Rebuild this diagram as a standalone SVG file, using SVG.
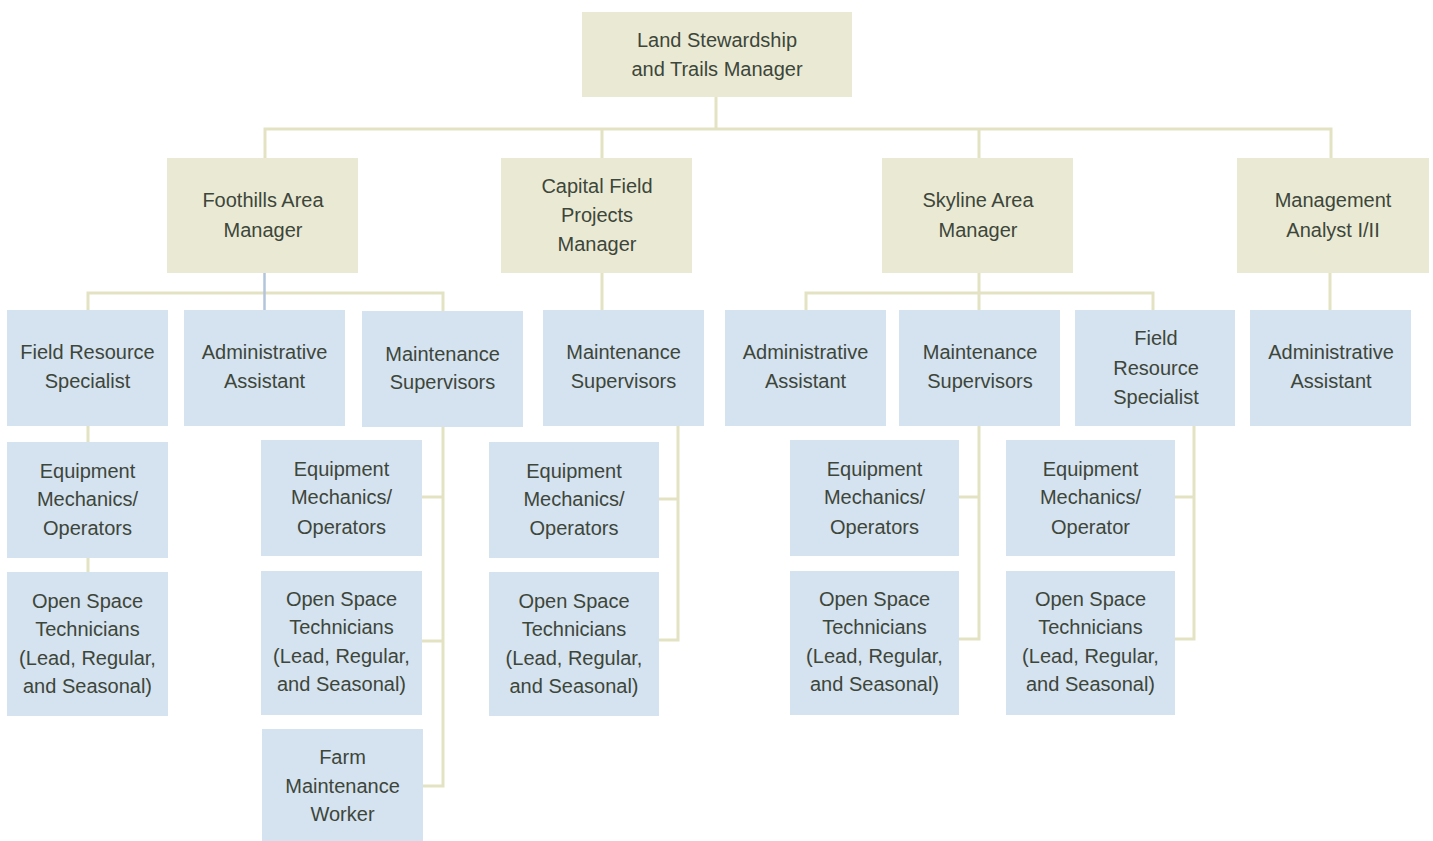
<svg xmlns="http://www.w3.org/2000/svg" width="1433" height="841" viewBox="0 0 1433 841">
<style>
.tan{fill:#EAEAD4}
.blu{fill:#D5E2EF}
text{font-family:"Liberation Sans",Arial,sans-serif;font-size:20px;fill:#3D463A;text-anchor:middle}
.ln{fill:none;stroke:#E3E3C3;stroke-width:3;stroke-linecap:square}
.bl{fill:none;stroke:#B3C5DB;stroke-width:2.5}
</style>
<rect width="1433" height="841" fill="#fff"/>
<g id="connectors">
<path class="ln" d="M716 97V129M265 129H1331M265 129V158M602 129V158M979 129V158M1331 129V158"/>
<path class="ln" d="M88 293H443M88 293V310M443 293V311"/>
<path class="bl" d="M264.5 273V310"/>
<path class="ln" d="M602 273V310"/>
<path class="ln" d="M979 273V310M806 293H1153M806 293V310M1153 293V310"/>
<path class="ln" d="M1330 273V310"/>
<path class="ln" d="M88 426V442M88 558V572"/>
<path class="ln" d="M443 427V786M422 497H443M422 641H443M423 786H443"/>
<path class="ln" d="M678 426V640M659 499H678M659 640H678"/>
<path class="ln" d="M979 426V639M959 497H979M959 639H979"/>
<path class="ln" d="M1194 426V639M1175 497H1194M1175 639H1194"/>
</g>
<g id="n-top"><rect class="tan" x="582" y="12" width="270" height="85"/><text x="717" y="47">Land Stewardship</text><text x="717" y="76">and Trails Manager</text></g>
<g id="n-foothills"><rect class="tan" x="167" y="158" width="191" height="115"/><text x="263" y="207">Foothills Area</text><text x="263" y="237">Manager</text></g>
<g id="n-capital"><rect class="tan" x="501" y="158" width="191" height="115"/><text x="597" y="193">Capital Field</text><text x="597" y="222">Projects</text><text x="597" y="251">Manager</text></g>
<g id="n-skyline"><rect class="tan" x="882" y="158" width="191" height="115"/><text x="978" y="207">Skyline Area</text><text x="978" y="237">Manager</text></g>
<g id="n-mgmt"><rect class="tan" x="1237" y="158" width="192" height="115"/><text x="1333" y="207">Management</text><text x="1333" y="237">Analyst I/II</text></g>
<g id="n-f-frs"><rect class="blu" x="7" y="310" width="161" height="116"/><text x="87.5" y="359">Field Resource</text><text x="87.5" y="388">Specialist</text></g>
<g id="n-f-admin"><rect class="blu" x="184" y="310" width="161" height="116"/><text x="264.5" y="359">Administrative</text><text x="264.5" y="388">Assistant</text></g>
<g id="n-f-ms"><rect class="blu" x="362" y="311" width="161" height="116"/><text x="442.5" y="361">Maintenance</text><text x="442.5" y="389">Supervisors</text></g>
<g id="n-c-ms"><rect class="blu" x="543" y="310" width="161" height="116"/><text x="623.5" y="359">Maintenance</text><text x="623.5" y="388">Supervisors</text></g>
<g id="n-s-admin"><rect class="blu" x="725" y="310" width="161" height="116"/><text x="805.5" y="359">Administrative</text><text x="805.5" y="388">Assistant</text></g>
<g id="n-s-ms"><rect class="blu" x="899" y="310" width="161" height="116"/><text x="980" y="359">Maintenance</text><text x="980" y="388">Supervisors</text></g>
<g id="n-s-frs"><rect class="blu" x="1075" y="310" width="160" height="116"/><text x="1156" y="345">Field</text><text x="1156" y="375">Resource</text><text x="1156" y="404">Specialist</text></g>
<g id="n-m-admin"><rect class="blu" x="1250" y="310" width="161" height="116"/><text x="1331" y="359">Administrative</text><text x="1331" y="388">Assistant</text></g>
<g id="n-f-frs-eq"><rect class="blu" x="7" y="442" width="161" height="116"/><text x="87.5" y="478">Equipment</text><text x="87.5" y="506">Mechanics/</text><text x="87.5" y="535">Operators</text></g>
<g id="n-f-frs-os"><rect class="blu" x="7" y="572" width="161" height="144"/><text x="87.5" y="608">Open Space</text><text x="87.5" y="636">Technicians</text><text x="87.5" y="665">(Lead, Regular,</text><text x="87.5" y="693">and Seasonal)</text></g>
<g id="n-f-ms-eq"><rect class="blu" x="261" y="440" width="161" height="116"/><text x="341.5" y="476">Equipment</text><text x="341.5" y="504">Mechanics/</text><text x="341.5" y="534">Operators</text></g>
<g id="n-f-ms-os"><rect class="blu" x="261" y="571" width="161" height="144"/><text x="341.5" y="606">Open Space</text><text x="341.5" y="634">Technicians</text><text x="341.5" y="663">(Lead, Regular,</text><text x="341.5" y="691">and Seasonal)</text></g>
<g id="n-f-ms-farm"><rect class="blu" x="262" y="729" width="161" height="112"/><text x="342.5" y="764">Farm</text><text x="342.5" y="793">Maintenance</text><text x="342.5" y="821">Worker</text></g>
<g id="n-c-ms-eq"><rect class="blu" x="489" y="442" width="170" height="116"/><text x="574" y="478">Equipment</text><text x="574" y="506">Mechanics/</text><text x="574" y="535">Operators</text></g>
<g id="n-c-ms-os"><rect class="blu" x="489" y="572" width="170" height="144"/><text x="574" y="608">Open Space</text><text x="574" y="636">Technicians</text><text x="574" y="665">(Lead, Regular,</text><text x="574" y="693">and Seasonal)</text></g>
<g id="n-s-ms-eq"><rect class="blu" x="790" y="440" width="169" height="116"/><text x="874.5" y="476">Equipment</text><text x="874.5" y="504">Mechanics/</text><text x="874.5" y="534">Operators</text></g>
<g id="n-s-ms-os"><rect class="blu" x="790" y="571" width="169" height="144"/><text x="874.5" y="606">Open Space</text><text x="874.5" y="634">Technicians</text><text x="874.5" y="663">(Lead, Regular,</text><text x="874.5" y="691">and Seasonal)</text></g>
<g id="n-s-frs-eq"><rect class="blu" x="1006" y="440" width="169" height="116"/><text x="1090.5" y="476">Equipment</text><text x="1090.5" y="504">Mechanics/</text><text x="1090.5" y="534">Operator</text></g>
<g id="n-s-frs-os"><rect class="blu" x="1006" y="571" width="169" height="144"/><text x="1090.5" y="606">Open Space</text><text x="1090.5" y="634">Technicians</text><text x="1090.5" y="663">(Lead, Regular,</text><text x="1090.5" y="691">and Seasonal)</text></g>
</svg>
